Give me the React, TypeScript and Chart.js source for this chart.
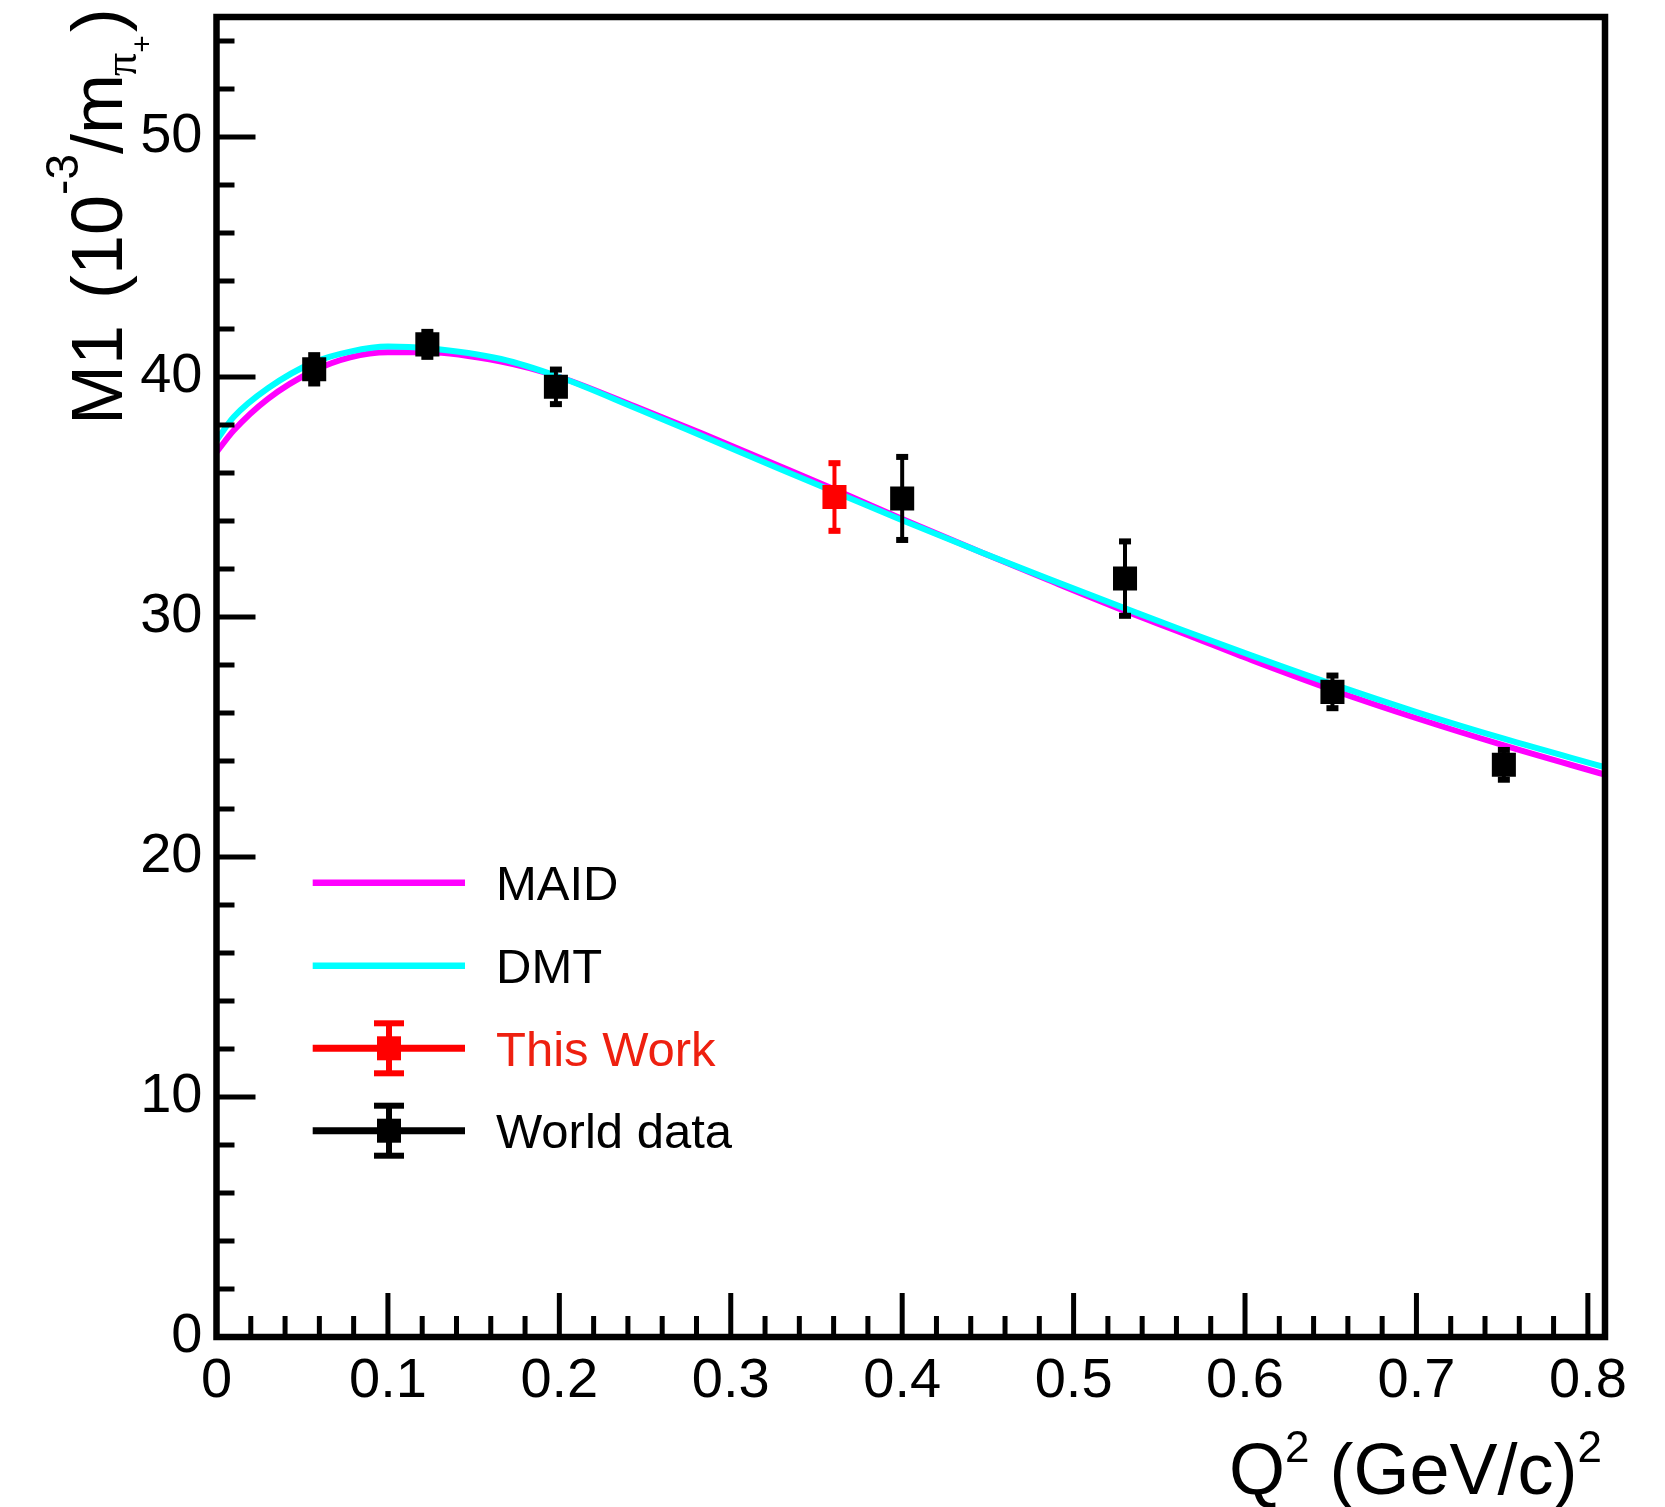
import React, { useEffect, useRef } from 'react';
import { Chart, registerables } from 'chart.js';

Chart.register(...registerables);

// ---------------- data ----------------
const maidQ2 = [0.0, 0.01, 0.03, 0.057, 0.078, 0.1, 0.123, 0.166, 0.2, 0.244, 0.283, 0.329, 0.361, 0.4, 0.446, 0.485, 0.53, 0.563, 0.604, 0.651, 0.701, 0.751, 0.81];
const maidM1 = [36.87, 37.77, 39.09, 40.27, 40.82, 41.03, 41.03, 40.64, 40.0, 38.78, 37.65, 36.27, 35.3, 34.08, 32.7, 31.55, 30.25, 29.35, 28.2, 26.96, 25.76, 24.65, 23.43];

const dmtQ2 = [0.0, 0.01, 0.03, 0.057, 0.078, 0.1, 0.123, 0.166, 0.2, 0.244, 0.283, 0.329, 0.361, 0.4, 0.446, 0.485, 0.53, 0.563, 0.604, 0.651, 0.701, 0.751, 0.81];
const dmtM1 = [37.36, 38.33, 39.53, 40.62, 41.06, 41.27, 41.2, 40.75, 40.0, 38.72, 37.55, 36.16, 35.2, 34.03, 32.7, 31.6, 30.36, 29.47, 28.39, 27.2, 26.02, 24.93, 23.74];

const worldQ2 = [0.057, 0.123, 0.198, 0.4, 0.53, 0.651, 0.751];
const worldM1 = [40.32, 41.36, 39.59, 34.94, 31.6, 26.88, 23.84];
const worldErr = [0.59, 0.52, 0.72, 1.73, 1.55, 0.68, 0.62];

const thisQ2 = [0.3605];
const thisM1 = [35.0];
const thisErr = [1.41];

const xMajorTicks = [0, 0.1, 0.2, 0.3, 0.4, 0.5, 0.6, 0.7, 0.8];
const yMajorTicks = [0, 10, 20, 30, 40, 50];
const legendLabels = ['MAID', 'DMT', 'This Work', 'World data'];

const SANS = '"Liberation Sans", Arial, Helvetica, sans-serif';
const SERIF = '"Liberation Serif", "Times New Roman", serif';

type Seg = { t: string; s: number; dy?: number; dx?: number; fam?: string; color?: string };

function segWidth(ctx: CanvasRenderingContext2D, segs: Seg[]) {
  let w = 0;
  for (const g of segs) {
    ctx.font = `${g.s}px ${g.fam || SANS}`;
    w += ctx.measureText(g.t).width + (g.dx || 0);
  }
  return w;
}

function drawSegs(ctx: CanvasRenderingContext2D, segs: Seg[], x0: number, y0: number) {
  let x = x0;
  ctx.textBaseline = 'alphabetic';
  ctx.textAlign = 'left';
  for (const g of segs) {
    x += g.dx || 0;
    ctx.font = `${g.s}px ${g.fam || SANS}`;
    ctx.fillStyle = g.color || '#000';
    ctx.fillText(g.t, x, y0 + (g.dy || 0));
    x += ctx.measureText(g.t).width;
  }
}

export default function App() {
  const ref = useRef<HTMLCanvasElement>(null);

  useEffect(() => {
    const canvas = ref.current!;
    const pts = (xs: number[], ys: number[]) => xs.map((x, i) => ({ x, y: ys[i] }));

    const errPlugin = {
      id: 'errbars',
      beforeDatasetDraw(chart: any, args: any) {
        if (args.index !== 1) return;
        const ctx = chart.ctx as CanvasRenderingContext2D;
        const xs = chart.scales.x;
        const ys = chart.scales.y;
        ctx.save();
        const draw = (q: number[], m: number[], e: number[], color: string) => {
          ctx.strokeStyle = color;
          ctx.fillStyle = color;
          for (let i = 0; i < q.length; i++) {
            const px = xs.getPixelForValue(q[i]);
            const pLo = ys.getPixelForValue(m[i] - e[i]);
            const pHi = ys.getPixelForValue(m[i] + e[i]);
            ctx.lineWidth = 4;
            ctx.beginPath();
            ctx.moveTo(px, pLo);
            ctx.lineTo(px, pHi);
            ctx.stroke();
            ctx.fillRect(px - 6, pHi - 3, 12, 6);
            ctx.fillRect(px - 6, pLo - 3, 12, 6);
          }
        };
        draw(worldQ2, worldM1, worldErr, '#000000');
        draw(thisQ2, thisM1, thisErr, '#ff0000');
        ctx.restore();
      },
    };

    const decoPlugin = {
      id: 'deco',
      afterDraw(chart: any) {
        const ctx = chart.ctx as CanvasRenderingContext2D;
        const xs = chart.scales.x;
        const ys = chart.scales.y;
        const { left, right, top, bottom } = chart.chartArea;
        ctx.save();
        // ticks (inside)
        ctx.strokeStyle = '#000';
        ctx.lineWidth = 5;
        for (let i = 0; i <= 40; i++) {
          const v = i * 0.02;
          if (v > xs.max) break;
          const px = xs.getPixelForValue(v);
          const len = i % 5 === 0 ? 44 : 21;
          ctx.beginPath();
          ctx.moveTo(px, bottom);
          ctx.lineTo(px, bottom - len);
          ctx.stroke();
        }
        for (let i = 0; i <= 27; i++) {
          const v = i * 2;
          if (v > ys.max) break;
          const py = ys.getPixelForValue(v);
          const len = i % 5 === 0 ? 39 : 18;
          ctx.beginPath();
          ctx.moveTo(left, py);
          ctx.lineTo(left + len, py);
          ctx.stroke();
        }
        // frame
        ctx.lineWidth = 6.5;
        ctx.strokeRect(left, top, right - left, bottom - top);

        // x title
        const xt: Seg[] = [
          { t: 'Q', s: 72 },
          { t: '2', s: 44, dy: -32 },
          { t: ' (GeV/c)', s: 72 },
          { t: '2', s: 44, dy: -32 },
        ];
        const wx = segWidth(ctx, xt);
        drawSegs(ctx, xt, 1602 - wx, 1494);

        // y title (rotated)
        ctx.save();
        ctx.translate(121.7, 425);
        ctx.rotate(-Math.PI / 2);
        const yt: Seg[] = [
          { t: 'M1', s: 72 },
          { t: ' (10', s: 72, dx: 6 },
          { t: '-3', s: 46, dy: -44 },
          { t: '/m', s: 72 },
          { t: 'π', s: 46, dy: 14, fam: SERIF, dx: -2 },
          { t: '+', s: 30, dy: 30 },
          { t: ')', s: 72, dx: 3 },
        ];
        drawSegs(ctx, yt, 0, 0);
        ctx.restore();

        // legend
        const rows = [882.7, 965.7, 1048.3, 1130.7];
        const lx0 = 312.7;
        const lx1 = 465;
        const mx = 389;
        const colors = ['#ff00ff', '#00ffff', '#ff0000', '#000000'];
        const textColors = ['#000', '#000', 'rgb(238,32,16)', '#000'];
        for (let i = 0; i < 4; i++) {
          const y = rows[i];
          ctx.strokeStyle = colors[i];
          ctx.fillStyle = colors[i];
          ctx.lineWidth = i < 2 ? 6.5 : 7;
          ctx.beginPath();
          ctx.moveTo(lx0, y);
          ctx.lineTo(lx1, y);
          ctx.stroke();
          if (i >= 2) {
            ctx.lineWidth = 6;
            ctx.beginPath();
            ctx.moveTo(mx, y - 25);
            ctx.lineTo(mx, y + 25);
            ctx.stroke();
            ctx.fillRect(mx - 15, y - 28, 30, 6);
            ctx.fillRect(mx - 15, y + 22, 30, 6);
            ctx.fillRect(mx - 12, y - 12, 24, 24);
          }
          ctx.font = `49px ${SANS}`;
          ctx.fillStyle = textColors[i];
          ctx.textAlign = 'left';
          ctx.textBaseline = 'alphabetic';
          ctx.fillText(legendLabels[i], 496, y + 17.5);
        }
        ctx.restore();
      },
    };

    const chart = new Chart(canvas, {
      type: 'scatter',
      data: {
        datasets: [
          {
            label: 'World data',
            data: pts(worldQ2, worldM1),
            backgroundColor: '#000000',
            borderColor: '#000000',
            pointStyle: 'rect',
            pointRadius: 17,
            pointBorderWidth: 0,
            showLine: false,
          },
          {
            label: 'This Work',
            data: pts(thisQ2, thisM1),
            backgroundColor: '#ff0000',
            borderColor: '#ff0000',
            pointStyle: 'rect',
            pointRadius: 17,
            pointBorderWidth: 0,
            showLine: false,
          },
          {
            label: 'DMT',
            data: pts(dmtQ2, dmtM1),
            borderColor: '#00ffff',
            backgroundColor: '#00ffff',
            borderWidth: 6,
            pointRadius: 0,
            showLine: true,
            cubicInterpolationMode: 'monotone',
          },
          {
            label: 'MAID',
            data: pts(maidQ2, maidM1),
            borderColor: '#ff00ff',
            backgroundColor: '#ff00ff',
            borderWidth: 6,
            pointRadius: 0,
            showLine: true,
            cubicInterpolationMode: 'monotone',
          },
        ],
      } as any,
      options: {
        responsive: false,
        animation: false,
        devicePixelRatio: 1,
        layout: { padding: { left: 0, top: 14.5, right: 60, bottom: 0 } },
        plugins: { legend: { display: false }, tooltip: { enabled: false } },
        scales: {
          x: {
            type: 'linear',
            position: 'bottom',
            min: 0,
            max: 0.81,
            grid: { display: false, drawTicks: false },
            border: { display: false },
            afterBuildTicks: (s: any) => {
              s.ticks = xMajorTicks.map((v) => ({ value: v }));
            },
            ticks: {
              autoSkip: false,
              maxRotation: 0,
              minRotation: 0,
              padding: 11,
              color: '#000',
              font: { family: SANS, size: 56 },
              callback: (v: any) => (Number(v) === 0 ? '0' : Number(v).toFixed(1)),
            },
            afterFit: (s: any) => {
              s.height = 170;
              s.paddingLeft = 0;
              s.paddingRight = 0;
              s.paddingTop = 0;
              s.paddingBottom = 0;
            },
          },
          y: {
            type: 'linear',
            position: 'left',
            min: 0,
            max: 55,
            grid: { display: false, drawTicks: false },
            border: { display: false },
            afterBuildTicks: (s: any) => {
              s.ticks = yMajorTicks.map((v) => ({ value: v }));
            },
            ticks: {
              autoSkip: false,
              padding: 14,
              color: '#000',
              font: { family: SANS, size: 56 },
              callback: (v: any) => String(v),
            },
            afterFit: (s: any) => {
              s.width = 216.5;
              s.paddingLeft = 0;
              s.paddingRight = 0;
              s.paddingTop = 0;
              s.paddingBottom = 0;
            },
          },
        },
      } as any,
      plugins: [errPlugin, decoPlugin],
    });

    return () => chart.destroy();
  }, []);

  return (
    <div style={{ position: 'fixed', left: 0, top: 0, width: 1665, height: 1507, background: '#ffffff' }}>
      <canvas ref={ref} width={1665} height={1507} style={{ display: 'block', width: 1665, height: 1507 }} />
    </div>
  );
}
